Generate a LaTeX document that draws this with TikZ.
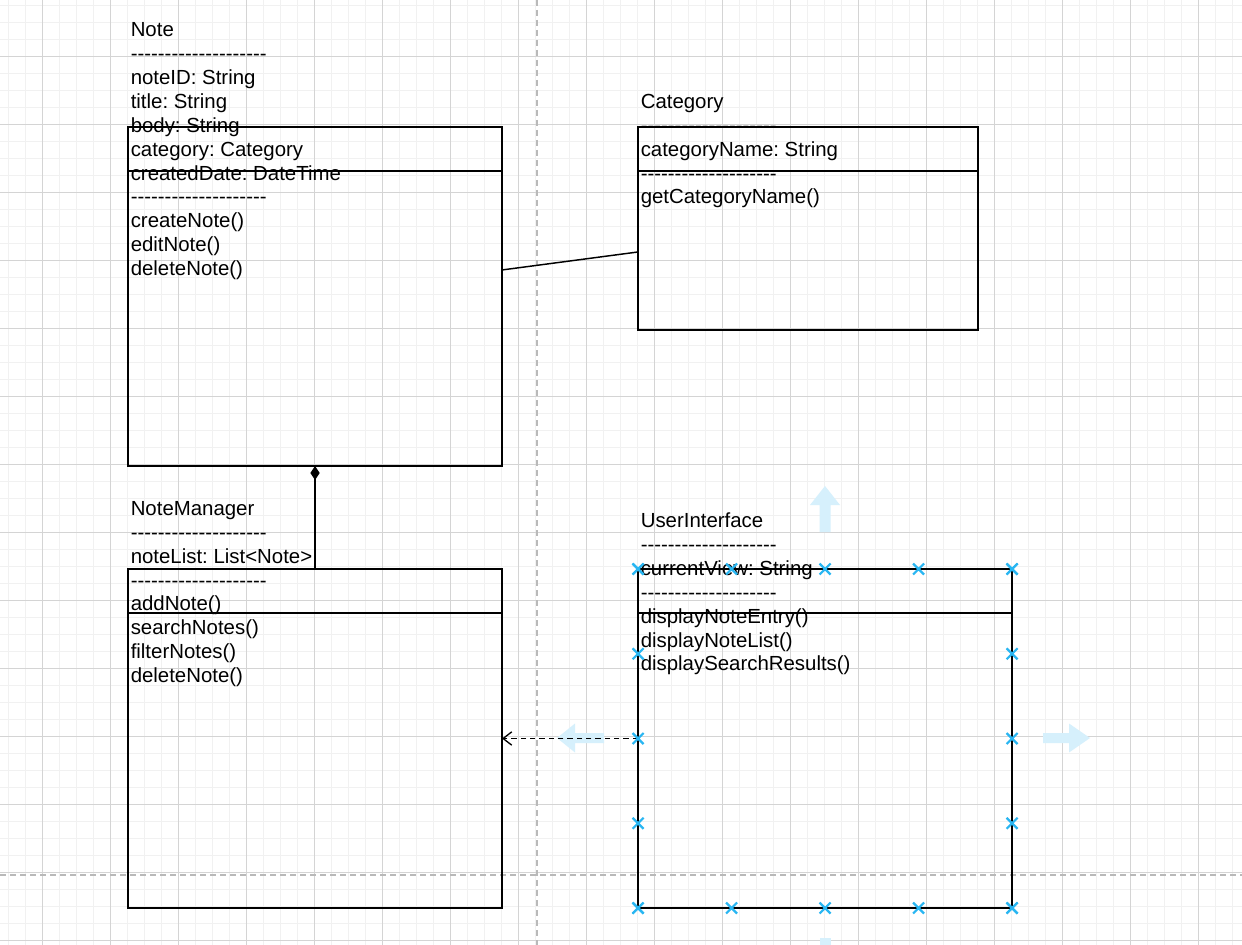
\documentclass[tikz,border=0pt]{standalone}
\usepackage{fontspec}
\setmainfont{Liberation Sans}
\usetikzlibrary{arrows.meta,calc}

\definecolor{gridminor}{RGB}{241,241,241}
\definecolor{gridmajor}{RGB}{212,212,212}
\definecolor{guidegray}{RGB}{185,185,185}
\definecolor{handleblue}{RGB}{41,182,242}
\definecolor{hoverblue}{RGB}{214,240,252}

% a row of 20 hyphens, kept apart so they do not turn into dashes
\newcommand{\dashrow}{-{}-{}-{}-{}-{}-{}-{}-{}-{}-{}-{}-{}-{}-{}-{}-{}-{}-{}-{}-}

\begin{document}
\frenchspacing
\begin{tikzpicture}[x=0.75pt, y=-0.75pt, >=Stealth,
    classbox/.style={draw, line width=1.1pt, anchor=north west, inner sep=0pt, outer sep=0pt},
    classtext/.style={anchor=north west, inner sep=0pt, align=left, font=\fontsize{15.3}{17.9}\selectfont},
    minorline/.style={gridminor, line width=0.75pt},
    majorline/.style={gridmajor, line width=0.75pt},
    guide/.style={guidegray, line width=1.1pt, dash pattern=on 4.5pt off 3pt},
    link/.style={line width=1.1pt},
    handle/.style={handleblue, line width=1.6pt}]

    % Canvas and grid
    \fill[white] (0,0) rectangle (1242,945);
    \useasboundingbox (0,0) rectangle (1242,945);
    \foreach \x in {8.5,25.5,...,1242} \draw[minorline] (\x,0) -- (\x,945);
    \foreach \y in {5.5,22.5,...,945} \draw[minorline] (0,\y) -- (1242,\y);
    \foreach \x in {42.5,110.5,...,1242} \draw[majorline] (\x,0) -- (\x,945);
    \foreach \y in {56.5,124.5,...,945} \draw[majorline] (0,\y) -- (1242,\y);

    % Guides
    \draw[guide] (537,0) -- (537,945);
    \draw[guide] (0,875) -- (1242,875);

    % Hover arrows round the selected box
    \fill[hoverblue] (825,486) -- (840,505) -- (830.5,505) -- (830.5,532) -- (819.5,532) -- (819.5,505) -- (810,505) -- cycle;
    \fill[hoverblue] (557,738) -- (575,723.5) -- (575,733) -- (604,733) -- (604,743) -- (575,743) -- (575,752.5) -- cycle;
    \fill[hoverblue] (1090,738) -- (1069,723.5) -- (1069,733) -- (1043,733) -- (1043,743) -- (1069,743) -- (1069,752.5) -- cycle;
    \fill[hoverblue] (819.5,938) rectangle (830.5,945);

    % Class boxes
    \node[classbox, minimum width=280.5pt, minimum height=254.25pt] (note) at (128,127) {};
    \node[classbox, minimum width=255pt, minimum height=152.25pt] (category) at (638,127) {};
    \node[classbox, minimum width=280.5pt, minimum height=254.25pt] (manager) at (128,569) {};
    \node[classbox, minimum width=280.5pt, minimum height=254.25pt] (ui) at (638,569) {};

    % Header dividers
    \foreach \cls in {note,category,manager,ui}
        \draw[link] ([yshift=-33pt]\cls.north west) -- ([yshift=-33pt]\cls.north east);

    % Class texts
    \node[classtext] (notetext) at (130.5,22.6) {Note\\\dashrow\\noteID: String\\title: String\\body: String\\category: Category\\createdDate: DateTime\\\dashrow\\createNote()\\editNote()\\deleteNote()};
    \node[classtext] (cattext) at (640.5,94) {Category\\\dashrow\\categoryName: String\\\dashrow\\getCategoryName()};
    \node[classtext] (mgrtext) at (130.5,501.2) {NoteManager\\\dashrow\\noteList: List<Note>\\\dashrow\\addNote()\\searchNotes()\\filterNotes()\\deleteNote()};
    \node[classtext] (uitext) at (640.5,512.7) {UserInterface\\\dashrow\\currentView: String\\\dashrow\\displayNoteEntry()\\displayNoteList()\\displaySearchResults()};

    % Relations
    \draw[link] ([yshift=19.9pt]note.east) -- ([yshift=-17.6pt]category.west);
    \draw[link, {Diamond[length=10.5pt, width=7pt]}-] (note.south) -- (manager.north);
    \draw[line width=1pt, dash pattern=on 4pt off 3pt, -{Straight Barb[length=6.5pt, width=10pt]}] (ui.west) -- (manager.east);

    % Selection handles
    \foreach \f in {0,0.25,0.5,0.75,1} {
        \draw[handle] ($(ui.north west)!\f!(ui.north east)$) +(-5.5,-5.5) -- +(5.5,5.5) +(-5.5,5.5) -- +(5.5,-5.5);
        \draw[handle] ($(ui.south west)!\f!(ui.south east)$) +(-5.5,-5.5) -- +(5.5,5.5) +(-5.5,5.5) -- +(5.5,-5.5);
        \draw[handle] ($(ui.north west)!\f!(ui.south west)$) +(-5.5,-5.5) -- +(5.5,5.5) +(-5.5,5.5) -- +(5.5,-5.5);
        \draw[handle] ($(ui.north east)!\f!(ui.south east)$) +(-5.5,-5.5) -- +(5.5,5.5) +(-5.5,5.5) -- +(5.5,-5.5);
    }
\end{tikzpicture}
\end{document}
